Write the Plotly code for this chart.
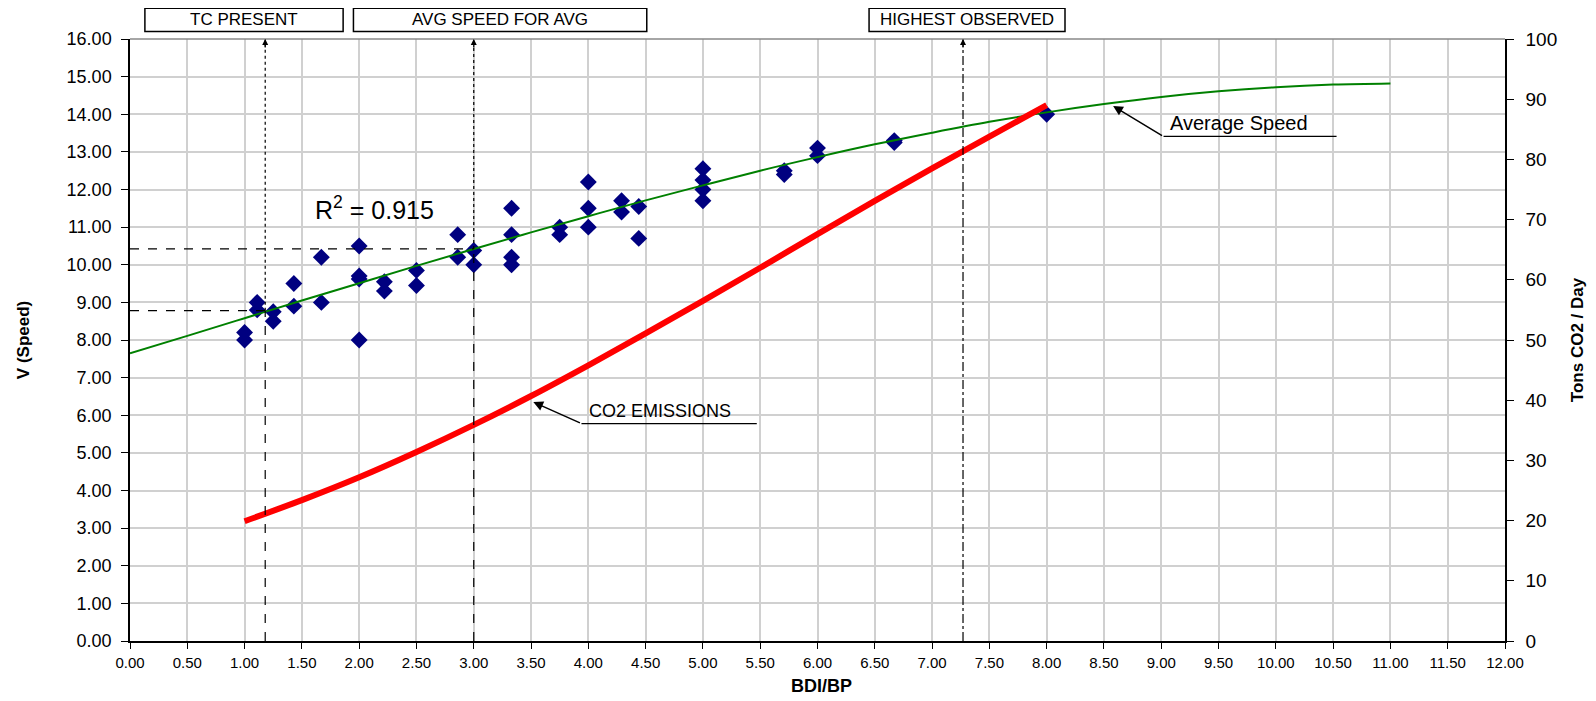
import plotly.graph_objects as go

# ---------------- data ----------------
obs_x = [1.00, 1.00, 1.11, 1.11, 1.25, 1.25, 1.43, 1.43, 1.67, 1.67,
         2.00, 2.00, 2.00, 2.00, 2.22, 2.22, 2.50, 2.50, 2.86, 2.86,
         3.00, 3.00, 3.33, 3.33, 3.33, 3.33, 3.75, 3.75, 4.00, 4.00, 4.00,
         4.29, 4.29, 4.44, 4.44, 5.00, 5.00, 5.00, 5.00, 5.71, 5.71,
         6.00, 6.00, 6.67, 6.67, 8.00]
obs_speed = [8.20, 8.00, 9.00, 8.80, 8.75, 8.50, 9.50, 8.90, 10.20, 9.00,
             10.50, 9.70, 9.62, 8.00, 9.55, 9.30, 9.85, 9.45, 10.80, 10.20,
             10.38, 10.00, 11.50, 10.80, 10.20, 10.00, 11.00, 10.80, 12.20, 11.50, 11.00,
             11.70, 11.40, 11.55, 10.70, 12.55, 12.25, 12.00, 11.70, 12.50, 12.40,
             13.10, 12.90, 13.30, 13.25, 14.00]

trend_x = [0.0, 0.5, 1.0, 1.5, 2.0, 2.5, 3.0, 3.5, 4.0, 4.5, 5.0, 5.5,
           6.0, 6.5, 7.0, 7.5, 8.0, 8.5, 9.0, 9.5, 10.0, 10.5, 11.0]
trend_speed = [7.65, 8.11, 8.58, 9.05, 9.51, 9.97, 10.42, 10.86, 11.29, 11.71, 12.11, 12.50,
               12.86, 13.20, 13.51, 13.80, 14.05, 14.27, 14.46, 14.61, 14.72, 14.79, 14.82]

co2_x = [1.0, 1.5, 2.0, 2.5, 3.0, 3.5, 4.0, 4.5, 5.0, 5.5, 6.0, 6.5, 7.0, 7.5, 8.0]
co2_tons = [19.9, 23.4, 27.2, 31.4, 35.9, 40.7, 45.8, 51.1, 56.5, 62.0, 67.6, 73.1, 78.5, 83.8, 89.0]

marker_labels = ["TC PRESENT", "AVG SPEED FOR AVG", "HIGHEST OBSERVED"]
marker_x = [1.18, 3.00, 7.27]
marker_speed = [8.78, 10.42, None]
box_x0 = [0.13, 1.95, 6.45]
box_x1 = [1.86, 4.51, 8.16]

x_title = "BDI/BP"
y_title = "V (Speed)"
y2_title = "Tons CO2 / Day"
r2_text = "R<sup>2</sup> = 0.915"
avg_label = "Average Speed"
co2_label = "CO2 EMISSIONS"

X_MAX, Y_MAX, Y2_MAX = 12, 16, 100
FONT = "Liberation Sans, Arial, sans-serif"

fig = go.Figure()

fig.add_trace(go.Scatter(x=obs_x, y=obs_speed, mode="markers", name="Observed",
                         marker=dict(symbol="diamond", size=13, color="#000080"),
                         showlegend=False))
fig.add_trace(go.Scatter(x=trend_x, y=trend_speed, mode="lines", name="Average Speed",
                         line=dict(color="#008000", width=2, shape="spline"),
                         showlegend=False))
fig.add_trace(go.Scatter(x=co2_x, y=co2_tons, mode="lines", name="CO2 Emissions",
                         yaxis="y2", line=dict(color="#ff0000", width=6, shape="spline"),
                         showlegend=False))

shapes = []
annotations = []

# vertical/horizontal reference lines
for lbl, mx, ms, bx0, bx1 in zip(marker_labels, marker_x, marker_speed, box_x0, box_x1):
    if ms is not None:
        shapes.append(dict(type="line", xref="x", yref="y", x0=mx, x1=mx, y0=0, y1=ms,
                           line=dict(color="black", width=1.2, dash="dash")))
        shapes.append(dict(type="line", xref="x", yref="y", x0=mx, x1=mx, y0=ms, y1=Y_MAX,
                           line=dict(color="black", width=1.2, dash="dot")))
        shapes.append(dict(type="line", xref="x", yref="y", x0=0, x1=mx, y0=ms, y1=ms,
                           line=dict(color="black", width=1.2, dash="dash")))
    else:
        shapes.append(dict(type="line", xref="x", yref="y", x0=mx, x1=mx, y0=0, y1=Y_MAX,
                           line=dict(color="black", width=1.2, dash="dashdot")))
    annotations.append(dict(x=mx, y=Y_MAX, xref="x", yref="y", text="", showarrow=True,
                            ax=0, ay=10, arrowhead=2, arrowsize=1, arrowwidth=1.2,
                            arrowcolor="black"))
    # label box above plot
    shapes.append(dict(type="rect", xref="paper", yref="paper",
                       x0=bx0 / X_MAX, x1=bx1 / X_MAX, y0=1.0125, y1=1.051,
                       line=dict(color="black", width=1.5), fillcolor="white"))
    annotations.append(dict(x=(bx0 + bx1) / 2 / X_MAX, y=1.0317, xref="paper", yref="paper",
                            text=lbl, showarrow=False, font=dict(size=17, color="black", family=FONT),
                            xanchor="center", yanchor="middle"))

# top border
shapes.append(dict(type="line", xref="paper", yref="paper", x0=0, x1=1, y0=1, y1=1,
                   line=dict(color="#888888", width=1.5)))

# Average speed callout
shapes.append(dict(type="line", xref="x", yref="y", x0=9.02, x1=10.53, y0=13.41, y1=13.41,
                   line=dict(color="black", width=1.2)))
annotations.append(dict(x=8.58, y=14.22, xref="x", yref="y", ax=9.02, ay=13.41,
                        axref="x", ayref="y", text="", showarrow=True, arrowhead=2,
                        arrowsize=1.3, arrowwidth=1.5, arrowcolor="black"))
annotations.append(dict(x=9.06, y=13.42, xref="x", yref="y", text=avg_label, showarrow=False,
                        xanchor="left", yanchor="bottom", font=dict(size=20, color="black", family=FONT)))

# CO2 callout
shapes.append(dict(type="line", xref="x", yref="y", x0=3.94, x1=5.47, y0=5.78, y1=5.78,
                   line=dict(color="black", width=1.2)))
annotations.append(dict(x=3.52, y=6.35, xref="x", yref="y", ax=3.94, ay=5.78,
                        axref="x", ayref="y", text="", showarrow=True, arrowhead=2,
                        arrowsize=1.3, arrowwidth=1.5, arrowcolor="black"))
annotations.append(dict(x=3.99, y=5.79, xref="x", yref="y", text=co2_label, showarrow=False,
                        xanchor="left", yanchor="bottom", font=dict(size=18, color="black", family=FONT)))

# R^2
annotations.append(dict(x=2.13, y=11.5, xref="x", yref="y", text=r2_text, showarrow=False,
                        xanchor="center", yanchor="middle", font=dict(size=25, color="black", family=FONT)))

# axis titles
annotations.append(dict(x=0.503, y=-0.0755, xref="paper", yref="paper", text="<b>" + x_title + "</b>",
                        showarrow=False, xanchor="center", yanchor="middle",
                        font=dict(size=18, color="black", family=FONT)))
annotations.append(dict(x=-0.0777, y=0.5, xref="paper", yref="paper", text="<b>" + y_title + "</b>",
                        showarrow=False, xanchor="center", yanchor="middle", textangle=-90,
                        font=dict(size=17, color="black", family=FONT)))
annotations.append(dict(x=1.0525, y=0.5, xref="paper", yref="paper", text="<b>" + y2_title + "</b>",
                        showarrow=False, xanchor="center", yanchor="middle", textangle=-90,
                        font=dict(size=17, color="black", family=FONT)))

grid = "#d0d0d0"
fig.update_layout(
    width=1588, height=693,
    margin=dict(l=122, r=91, t=31, b=60, autoexpand=False),
    paper_bgcolor="white", plot_bgcolor="white",
    font=dict(family=FONT, color="black"),
    xaxis=dict(range=[0, X_MAX], dtick=0.5, tick0=0, tickformat=".2f",
               showgrid=True, gridcolor=grid, gridwidth=1.5,
               showline=True, linecolor="black", linewidth=1.5,
               ticks="outside", ticklen=6, tickcolor="black",
               tickfont=dict(size=15), zeroline=False, ticklabelstandoff=1,
               automargin=False),
    yaxis=dict(range=[0, Y_MAX], dtick=1, tick0=0, tickformat=".2f",
               showgrid=True, gridcolor=grid, gridwidth=1.5,
               showline=True, linecolor="black", linewidth=1.5,
               ticks="outside", ticklen=7, tickcolor="black",
               tickfont=dict(size=18), zeroline=False, ticklabelstandoff=6,
               automargin=False),
    yaxis2=dict(range=[0, Y2_MAX], dtick=10, tick0=0, overlaying="y", side="right",
                showgrid=False, showline=True, linecolor="black", linewidth=1.5,
                ticks="outside", ticklen=7, tickcolor="black",
                tickfont=dict(size=19), zeroline=False, ticklabelstandoff=8,
                automargin=False),
    shapes=shapes,
    annotations=annotations,
    showlegend=False,
)

fig.write_html("out.html")
